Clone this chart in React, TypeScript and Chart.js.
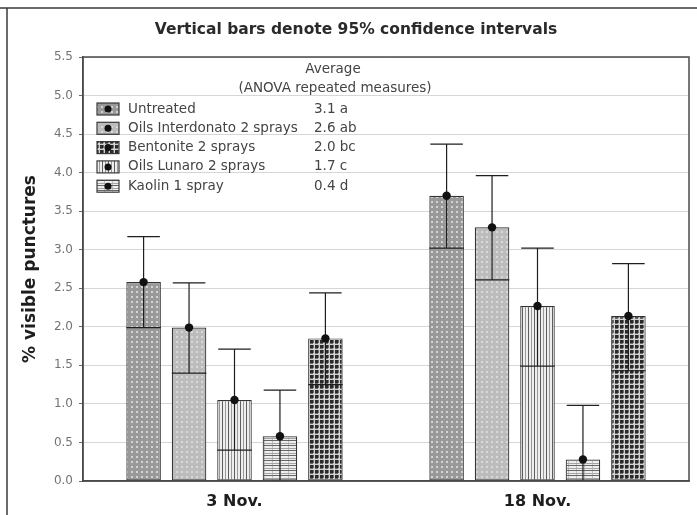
import { useEffect, useRef } from "react";
import { Chart, registerables } from "chart.js";

Chart.register(...registerables);

const categories = ["3 Nov.", "18 Nov."];
const seriesNames = [
  "Untreated",
  "Oils Interdonato 2 sprays",
  "Oils Lunaro 2 sprays",
  "Kaolin 1 spray",
  "Bentonite 2 sprays",
];
const untreated = [2.58, 3.7];
const interdonato = [1.99, 3.29];
const lunaro = [1.05, 2.27];
const kaolin = [0.58, 0.28];
const bentonite = [1.85, 2.14];

const untreatedLow = [1.99, 3.02];
const untreatedHigh = [3.17, 4.37];
const interdonatoLow = [1.4, 2.61];
const interdonatoHigh = [2.57, 3.96];
const lunaroLow = [0.4, 1.49];
const lunaroHigh = [1.71, 3.02];
const kaolinLow = [-0.02, -0.42];
const kaolinHigh = [1.18, 0.98];
const bentoniteLow = [1.25, 1.43];
const bentoniteHigh = [2.44, 2.82];

const legendTitle = ["Average", "(ANOVA repeated measures)"];
const legendNames = [
  "Untreated",
  "Oils Interdonato 2 sprays",
  "Bentonite 2 sprays",
  "Oils Lunaro 2 sprays",
  "Kaolin 1 spray",
];
const legendAverages = ["3.1 a", "2.6 ab", "2.0 bc", "1.7 c", "0.4 d"];

const chartTitle = "Vertical bars denote 95% confidence intervals";
const yAxisTitle = "% visible punctures";
const yMin = 0;
const yMax = 5.5;
const yStep = 0.5;

const FONT = "DejaVu Sans";

function tile(w: number, h: number, draw: (c: CanvasRenderingContext2D) => void) {
  const cv = document.createElement("canvas");
  cv.width = w;
  cv.height = h;
  const c = cv.getContext("2d")!;
  draw(c);
  return cv;
}

function makePatterns(ctx: CanvasRenderingContext2D) {
  const t1 = tile(5, 5, (c) => {
    c.fillStyle = "#999999";
    c.fillRect(0, 0, 5, 5);
    c.fillStyle = "#d4d4d4";
    c.fillRect(1, 1, 2, 2);
  });
  const t2 = tile(5, 5, (c) => {
    c.fillStyle = "#bcbcbc";
    c.fillRect(0, 0, 5, 5);
    c.fillStyle = "#d8d8d8";
    c.fillRect(1, 1, 2, 2);
  });
  const t3 = tile(6, 2, (c) => {
    c.fillStyle = "#eeeeee";
    c.fillRect(0, 0, 6, 2);
    c.fillStyle = "#5e5e5e";
    c.fillRect(0, 0, 1, 2);
    c.fillStyle = "#9a9a9a";
    c.fillRect(3, 0, 1, 2);
  });
  const t4 = tile(8, 5, (c) => {
    c.fillStyle = "#eeeeee";
    c.fillRect(0, 0, 8, 5);
    c.fillStyle = "#c0c0c0";
    c.fillRect(0, 0, 1, 5);
    c.fillStyle = "#666666";
    c.fillRect(0, 0, 8, 1);
    c.fillStyle = "#a4a4a4";
    c.fillRect(0, 3, 8, 1);
  });
  const t5 = tile(5, 5, (c) => {
    c.fillStyle = "#d2d2d2";
    c.fillRect(0, 0, 5, 5);
    c.fillStyle = "#2a2a2a";
    c.fillRect(0, 0, 3, 3);
    c.fillStyle = "#6a6a6a";
    c.fillRect(3, 0, 1, 3);
    c.fillRect(0, 3, 3, 1);
  });
  return [t1, t2, t3, t4, t5].map((t) => ctx.createPattern(t, "repeat")!);
}

export default function App() {
  const ref = useRef<HTMLCanvasElement | null>(null);

  useEffect(() => {
    const canvas = ref.current!;
    const ctx = canvas.getContext("2d")!;
    const patterns = makePatterns(ctx);
    const values = [untreated, interdonato, lunaro, kaolin, bentonite];
    const lows = [untreatedLow, interdonatoLow, lunaroLow, kaolinLow, bentoniteLow];
    const highs = [untreatedHigh, interdonatoHigh, lunaroHigh, kaolinHigh, bentoniteHigh];

    const extras = {
      id: "extras",
      beforeDraw(chart: any) {
        const c = chart.ctx;
        c.save();
        c.fillStyle = "#ffffff";
        c.fillRect(0, 0, chart.width, chart.height);
        c.strokeStyle = "#3a3a3a";
        c.lineWidth = 1.5;
        c.beginPath();
        c.moveTo(0, 8);
        c.lineTo(chart.width, 8);
        c.moveTo(7, 8);
        c.lineTo(7, chart.height);
        c.stroke();
        c.fillStyle = "#2a2a2a";
        c.font = `bold 15.5px "${FONT}"`;
        c.textAlign = "center";
        c.textBaseline = "middle";
        c.fillText(chartTitle, 356, 30);
        c.restore();
      },
      afterDatasetsDraw(chart: any) {
        const c = chart.ctx;
        const ys = chart.scales.y;
        const area = chart.chartArea;
        c.save();
        c.beginPath();
        c.rect(area.left, area.top, area.right - area.left, area.bottom - area.top);
        c.clip();
        c.strokeStyle = "#1e1e1e";
        c.fillStyle = "#111111";
        c.lineWidth = 1.2;
        chart.data.datasets.forEach((_: any, i: number) => {
          const meta = chart.getDatasetMeta(i);
          meta.data.forEach((bar: any, j: number) => {
            const { x, y, width } = bar.getProps(["x", "y", "width"], true);
            const yl = ys.getPixelForValue(lows[i][j]);
            const yh = ys.getPixelForValue(highs[i][j]);
            const hw = width / 2;
            c.beginPath();
            c.moveTo(x, yl);
            c.lineTo(x, yh);
            c.moveTo(x - hw + 1, yh);
            c.lineTo(x + hw - 1, yh);
            c.moveTo(x - hw, yl);
            c.lineTo(x + hw, yl);
            c.stroke();
            c.beginPath();
            c.arc(x, y, 4.2, 0, Math.PI * 2);
            c.fill();
          });
        });
        c.restore();
      },
      afterDraw(chart: any) {
        const c = chart.ctx;
        const area = chart.chartArea;
        c.save();
        c.strokeStyle = "#4a4a4a";
        c.lineWidth = 1.5;
        c.strokeRect(area.left, area.top, area.right - area.left, area.bottom - area.top);
        // legend
        c.fillStyle = "#444444";
        c.font = `13.5px "${FONT}"`;
        c.textAlign = "center";
        c.textBaseline = "middle";
        c.fillText(legendTitle[0], 333, 69);
        c.fillText(legendTitle[1], 335, 88);
        const rowY0 = 109;
        const rowDy = 19.3;
        legendNames.forEach((name, k) => {
          const idx = seriesNames.indexOf(name);
          const yy = rowY0 + k * rowDy;
          const bx = 97;
          const bw = 22;
          const bh = 12;
          c.fillStyle = patterns[idx];
          c.fillRect(bx, yy - bh / 2, bw, bh);
          c.strokeStyle = "#3a3a3a";
          c.lineWidth = 1.2;
          c.strokeRect(bx, yy - bh / 2, bw, bh);
          c.fillStyle = "#111";
          c.beginPath();
          c.arc(bx + bw / 2, yy, 3.5, 0, Math.PI * 2);
          c.fill();
          c.fillStyle = "#444444";
          c.textAlign = "left";
          c.fillText(name, 128, yy);
          c.fillText(legendAverages[k], 314, yy);
        });
        c.restore();
      },
    };

    const chart = new Chart(canvas, {
      type: "bar",
      data: {
        labels: categories,
        datasets: seriesNames.map((name, i) => ({
          label: name,
          data: values[i],
          backgroundColor: patterns[i] as any,
          borderColor: "#333333",
          borderWidth: 1.2,
          borderSkipped: false,
          categoryPercentage: 0.75,
          barPercentage: 0.76,
        })),
      },
      options: {
        responsive: false,
        animation: false,
        layout: { padding: { top: 57, right: 8, bottom: 0, left: 0 } },
        plugins: {
          legend: { display: false },
          title: { display: false },
          tooltip: { enabled: false },
        },
        scales: {
          x: {
            grid: { display: true, drawOnChartArea: false, drawTicks: false },
            border: { display: true, color: "#4a4a4a", width: 1.5 },
            ticks: {
              color: "#1e1e1e",
              padding: 11,
              font: { family: FONT, size: 16, weight: "bold" },
            },
            afterFit: (s: any) => {
              s.height = 34;
            },
          },
          y: {
            min: yMin,
            max: yMax,
            ticks: {
              stepSize: yStep,
              color: "#737373",
              padding: 6,
              font: { family: FONT, size: 12 },
              callback: (v: any) => Number(v).toFixed(1),
            },
            grid: { color: "#d6d6d6", tickColor: "#6a6a6a", tickLength: 4, lineWidth: 1 },
            border: { display: true, color: "#4a4a4a", width: 1.5 },
            title: {
              display: true,
              text: yAxisTitle,
              color: "#1e1e1e",
              font: { family: FONT, size: 17, weight: "bold" },
              padding: { top: 20, bottom: 0 },
            },
            afterFit: (s: any) => {
              s.width = 83;
            },
          },
        },
      },
      plugins: [extras],
    });
    return () => chart.destroy();
  }, []);

  return (
    <div style={{ position: "absolute", left: 0, top: 0, width: 697, height: 515 }}>
      <canvas ref={ref} width={697} height={515} style={{ display: "block" }} />
    </div>
  );
}
